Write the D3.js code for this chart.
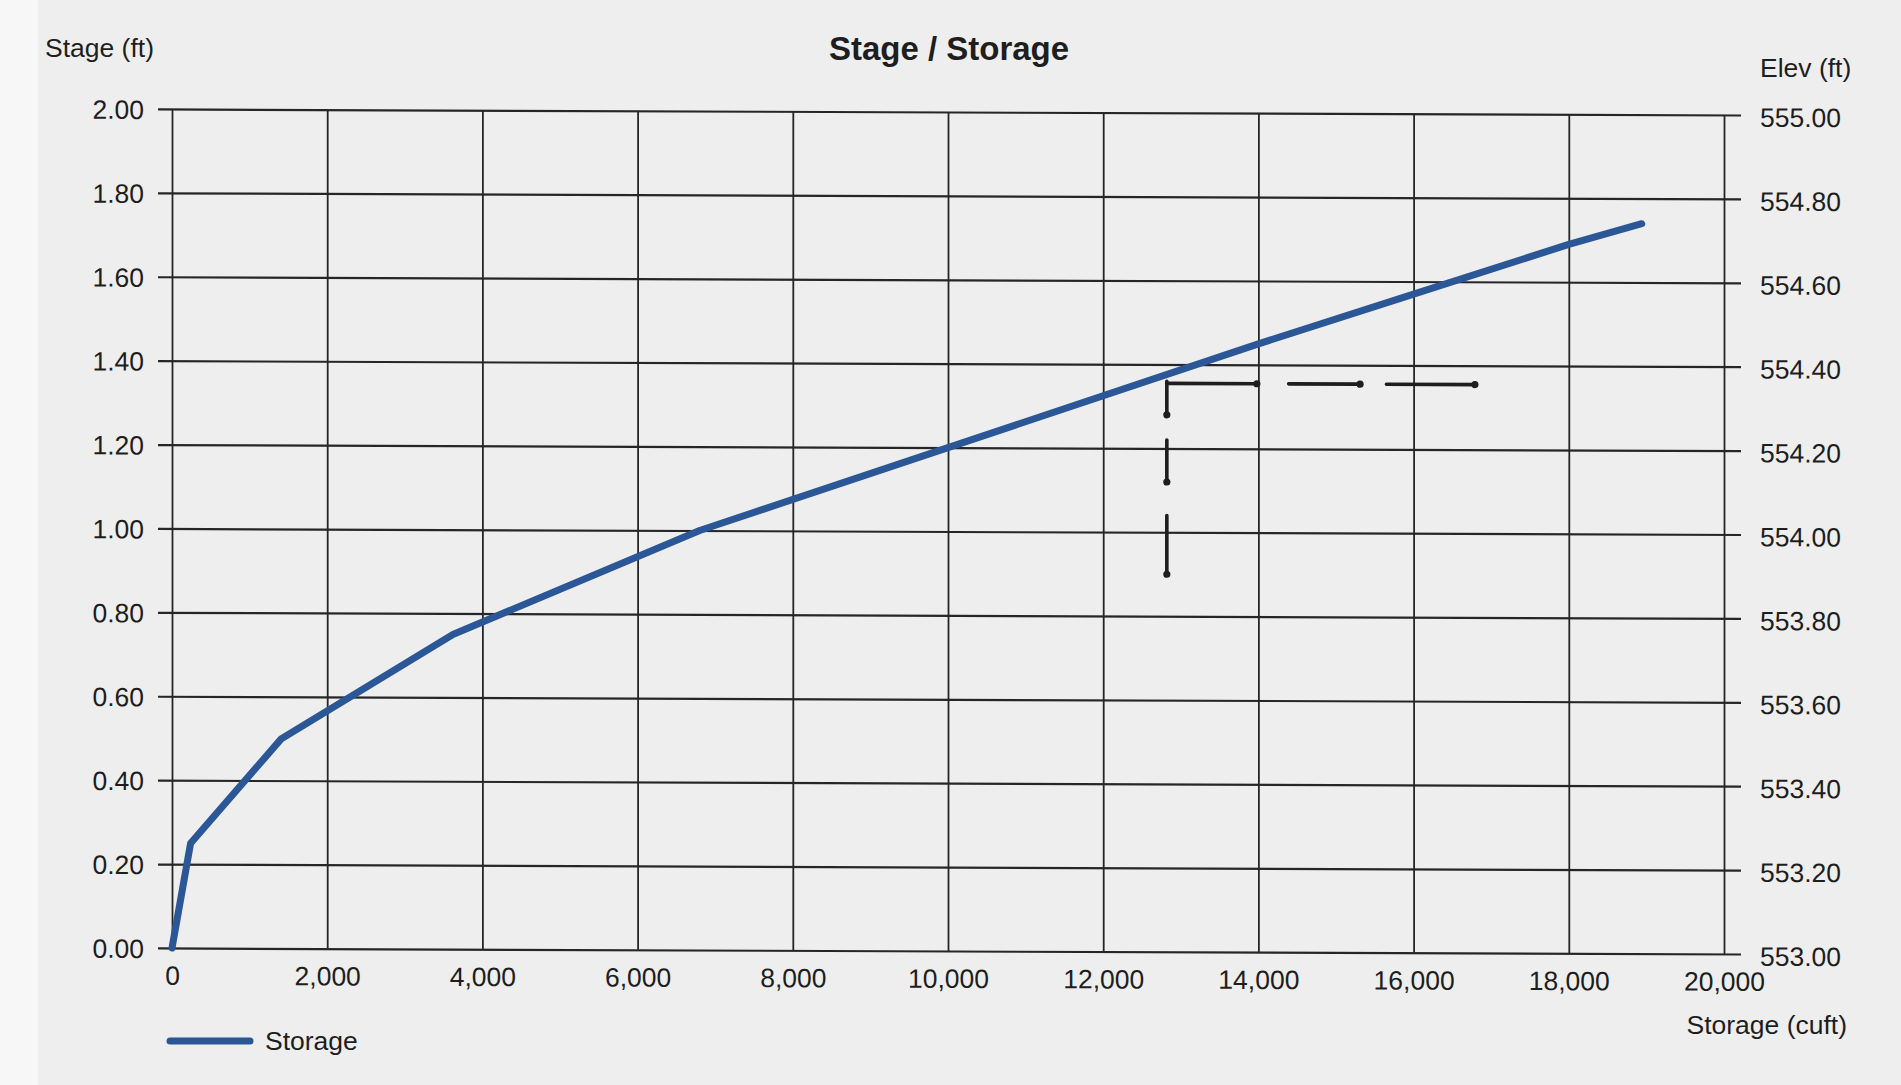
<!DOCTYPE html>
<html>
<head>
<meta charset="utf-8">
<script src="https://cdn.jsdelivr.net/npm/d3@7"></script>
<style>
  html, body { margin: 0; padding: 0; background: #eeeeee; }
  svg { display: block; }
  text { font-family: "Liberation Sans", Arial, sans-serif; fill: #1e1e1e; }
</style>
</head>
<body>
<svg id="chart" width="1901" height="1085"></svg>
<script>
// storage (cuft) vs stage (ft)
var storage = [0, 240, 1410, 3620, 6800, 10000, 14000, 16000, 18000, 18940];
var stage   = [0, 0.25, 0.50, 0.75, 1.00, 1.20, 1.45, 1.57, 1.69, 1.74];

var xTicks = [0, 2000, 4000, 6000, 8000, 10000, 12000, 14000, 16000, 18000, 20000];
var stageTicks = [0, 0.2, 0.4, 0.6, 0.8, 1.0, 1.2, 1.4, 1.6, 1.8, 2.0];
var elevTicks = [553.0, 553.2, 553.4, 553.6, 553.8, 554.0, 554.2, 554.4, 554.6, 554.8, 555.0];

// hand drawn dashed marker on the scan
var markStorage = 12820;
var markStage = 1.355;
var markHoriz = [[12820, 13980], [14390, 15310], [15650, 16790]];
var markVert = [[1.36, 1.28], [1.22, 1.12], [1.04, 0.90]];

var svg = d3.select("#chart");

// scan border on the left is whiter
svg.append("rect")
    .attr("x", 0).attr("y", 0)
    .attr("width", 38).attr("height", 1085)
    .style("fill", "#f7f7f7");

var plotLeft = 172, plotTop = 109, width = 1552, height = 839;

var x = d3.scaleLinear().domain([0, 20000]).range([0, width]);
var y = d3.scaleLinear().domain([0, 2]).range([height, 0]);
var yElev = d3.scaleLinear().domain([553, 555]).range([height, 0]);

// the scan is a little skewed, right side sits lower
var g = svg.append("g")
    .attr("transform", `translate(${plotLeft},${plotTop}) skewY(0.22)`);

var fmt2 = d3.format(".2f");

var yAxis = g.append("g")
    .attr("transform", "translate(-14,0)")
    .call(d3.axisLeft(y)
        .tickValues(stageTicks)
        .tickSize(-(width + 14 + 17))
        .tickPadding(14)
        .tickFormat(fmt2));

var rAxis = g.append("g")
    .attr("transform", `translate(${width + 17},0)`)
    .call(d3.axisRight(yElev)
        .tickValues(elevTicks)
        .tickSize(0)
        .tickPadding(19)
        .tickFormat(fmt2));

var xAxis = g.append("g")
    .attr("transform", `translate(0,${height})`)
    .call(d3.axisBottom(x)
        .tickValues(xTicks)
        .tickSize(-height)
        .tickPadding(18)
        .tickFormat(d3.format(",")));

g.selectAll(".domain").remove();
yAxis.selectAll("line").style("stroke", "#262626").style("stroke-width", 2.2);
xAxis.selectAll("line").style("stroke", "#262626").style("stroke-width", 1.8);
g.selectAll(".tick text")
    .style("font-size", "26.5px")
    .style("font-family", '"Liberation Sans", Arial, sans-serif')
    .style("fill", "#1e1e1e");
yAxis.selectAll(".tick text").attr("dy", "0.36em");
rAxis.selectAll(".tick text").attr("dy", "0.42em");

// dashed marker
var mark = g.append("g");
mark.selectAll("line.h")
    .data(markHoriz)
    .join("line")
    .attr("class", "h")
    .attr("x1", d => x(d[0])).attr("x2", d => x(d[1]))
    .attr("y1", y(markStage)).attr("y2", y(markStage));
mark.selectAll("line.v")
    .data(markVert)
    .join("line")
    .attr("class", "v")
    .attr("x1", x(markStorage)).attr("x2", x(markStorage))
    .attr("y1", d => y(d[0])).attr("y2", d => y(d[1]));
mark.selectAll("line")
    .style("stroke", "#1e1e1e")
    .style("stroke-width", 3.6)
    .style("stroke-linecap", "round");
var ends = [];
markHoriz.forEach(d => { ends.push([x(d[1]), y(markStage)]); });
markVert.forEach(d => { ends.push([x(markStorage), y(d[1])]); });
mark.selectAll("circle")
    .data(ends)
    .join("circle")
    .attr("cx", d => d[0]).attr("cy", d => d[1])
    .attr("r", 3.6)
    .style("fill", "#1e1e1e");

// storage curve
var pts = storage.map((s, i) => [s, stage[i]]);
g.append("path")
    .datum(pts)
    .attr("d", d3.line().x(d => x(d[0])).y(d => y(d[1])))
    .style("fill", "none")
    .style("stroke", "#2b5797")
    .style("stroke-width", 7)
    .style("stroke-linejoin", "round")
    .style("stroke-linecap", "round");

// titles
svg.append("text")
    .attr("x", 949).attr("y", 60)
    .attr("text-anchor", "middle")
    .style("font-size", "33px")
    .style("font-weight", 700)
    .text("Stage / Storage");

svg.append("text")
    .attr("x", 45).attr("y", 57)
    .style("font-size", "26.5px")
    .text("Stage (ft)");

svg.append("text")
    .attr("x", 1760).attr("y", 77)
    .style("font-size", "26.5px")
    .text("Elev (ft)");

svg.append("text")
    .attr("x", 1847).attr("y", 1034)
    .attr("text-anchor", "end")
    .style("font-size", "26.5px")
    .text("Storage (cuft)");

// legend
var legend = svg.append("g").attr("transform", "translate(170,1041)");
legend.append("line")
    .attr("x1", 0).attr("x2", 80)
    .attr("y1", 0).attr("y2", 0)
    .style("stroke", "#2b5797")
    .style("stroke-width", 7)
    .style("stroke-linecap", "round");
legend.append("text")
    .attr("x", 95).attr("y", 9)
    .style("font-size", "26.5px")
    .text("Storage");
</script>
</body>
</html>
